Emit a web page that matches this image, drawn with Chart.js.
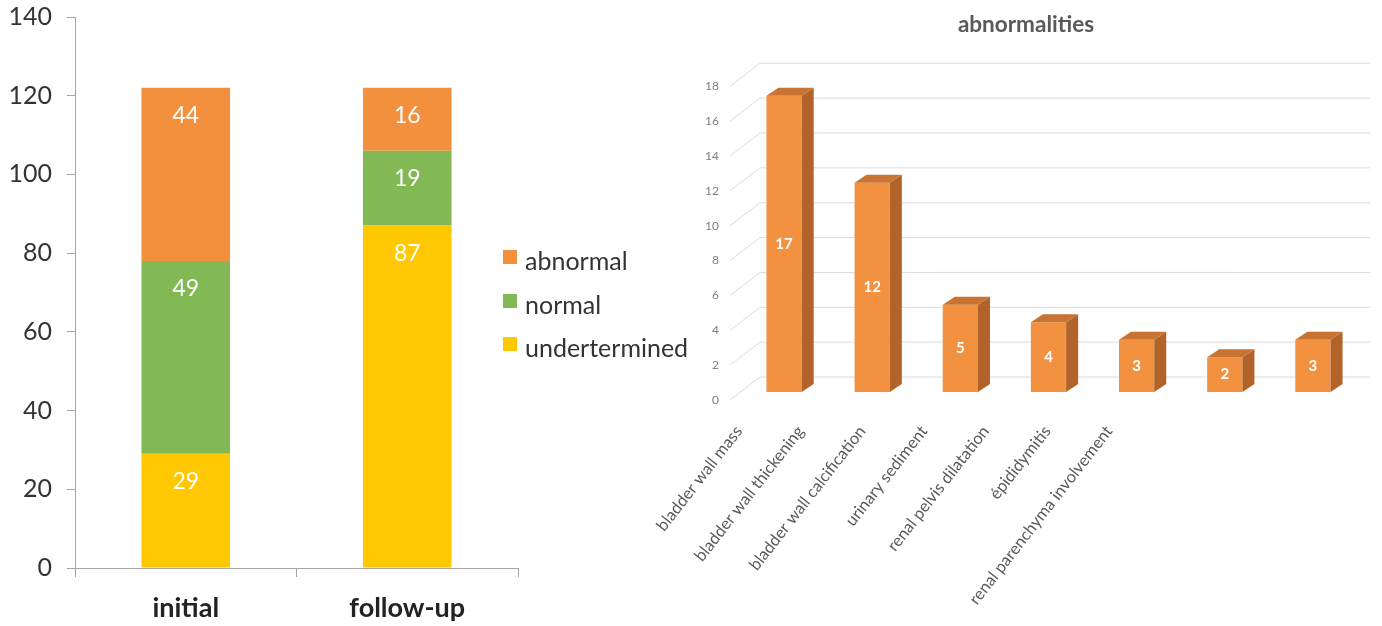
<!DOCTYPE html>
<html><head><meta charset="utf-8">
<script src="https://cdn.jsdelivr.net/npm/chart.js@4.4.1/dist/chart.umd.min.js"></script>
<style>
html,body{margin:0;padding:0;background:#fff;width:1382px;height:626px;overflow:hidden;font-family:Lato,sans-serif}
#c1wrap{position:absolute;left:0;top:0;width:540px;height:626px}
#c2wrap{position:absolute;left:640px;top:0;width:742px;height:626px}
#legend{position:absolute;left:503px;top:0;width:200px;height:626px}
.li{position:absolute;left:0;white-space:nowrap;display:flex;align-items:center;height:30px}
.sw{width:14px;height:14px;margin-right:8px;margin-top:-6px}
.lt{font-size:25px;color:#333;line-height:30px}
</style></head><body>
<div id="c1wrap"><canvas id="c1" width="540" height="626"></canvas></div>
<div id="legend"></div>
<div id="c2wrap"><canvas id="c2" width="742" height="626"></canvas></div>
<script>
// ---- left chart data ----
const stageCategories = ['initial', 'follow-up'];
const undeterminedValues = [29, 87];
const normalValues = [49, 19];
const abnormalValues = [44, 16];
const stageSeriesNames = ['undertermined', 'normal', 'abnormal'];
const stageColors = ['#FFC800', '#82B955', '#F2903E'];
const stageTickMax = 140;
const stageTickStep = 20;

// ---- right chart data ----
const abnormalityCategories = ['bladder wall mass', 'bladder wall thickening', 'bladder wall calcification', 'urinary sediment', 'renal pelvis dilatation', 'épididymitis', 'renal parenchyma involvement'];
const abnormalityCounts = [17, 12, 5, 4, 3, 2, 3];
const countTickMax = 18;
const countTickStep = 2;

const FONT = 'Lato';

// left chart
const stageSeries = [undeterminedValues, normalValues, abnormalValues];
const insideEndLabels = {
  id: 'insideEndLabels',
  afterDatasetsDraw(chart) {
    const ctx = chart.ctx;
    ctx.save();
    ctx.fillStyle = '#ffffff';
    ctx.font = '23px ' + FONT;
    ctx.textAlign = 'center';
    ctx.textBaseline = 'middle';
    chart.data.datasets.forEach((ds, di) => {
      chart.getDatasetMeta(di).data.forEach((el, i) => {
        const p = el.getProps(['x', 'y'], true);
        ctx.fillText(String(ds.data[i]), p.x, p.y + 28);
      });
    });
    ctx.restore();
  }
};
new Chart(document.getElementById('c1'), {
  type: 'bar',
  data: {
    labels: stageCategories,
    datasets: stageSeries.map((vals, i) => ({
      label: stageSeriesNames[i],
      data: vals,
      backgroundColor: stageColors[i],
      barPercentage: 0.4,
      categoryPercentage: 1
    }))
  },
  options: {
    responsive: false,
    animation: false,
    layout: { padding: { top: 17, right: 22, left: 0, bottom: 0 } },
    plugins: { legend: { display: false }, tooltip: { enabled: false } },
    scales: {
      x: {
        stacked: true,
        grid: { drawOnChartArea: false, tickLength: 9, color: '#a6a6a6', offset: true },
        border: { color: '#a6a6a6' },
        ticks: { font: { family: FONT, size: 27, weight: 'bold' }, color: '#222', padding: 15 },
        afterFit: s => { s.height = 58; s.paddingLeft = 0; s.paddingRight = 0; }
      },
      y: {
        stacked: true,
        min: 0, max: stageTickMax,
        ticks: { stepSize: stageTickStep, font: { family: FONT, size: 25 }, color: '#333', padding: 15 },
        grid: { drawOnChartArea: false, tickLength: 8, color: '#a6a6a6' },
        border: { color: '#a6a6a6' },
        afterFit: s => { s.width = 75; s.paddingTop = 0; s.paddingBottom = 0; }
      }
    }
  },
  plugins: [insideEndLabels]
});

// legend (reverse order, as in the reference)
const legendEl = document.getElementById('legend');
[2, 1, 0].forEach((si, row) => {
  const d = document.createElement('div');
  d.className = 'li';
  d.style.top = (245 + row * 43.5) + 'px';
  d.innerHTML = '<span class="sw" style="background:' + stageColors[si] + '"></span><span class="lt">' + stageSeriesNames[si] + '</span>';
  legendEl.appendChild(d);
});

// right chart
const labelSlots = abnormalityCategories.concat(['', '', '']);
const depth = { dx: 12, dy: -8 };
const wallDepth = { fx: -10, fy: 8, bx: 20, by: -15 };
const pseudo3d = {
  id: 'pseudo3d',
  beforeDatasetsDraw(chart) {
    const ctx = chart.ctx, ys = chart.scales.y, ca = chart.chartArea;
    ctx.save();
    ctx.strokeStyle = '#dcdcdc';
    ctx.lineWidth = 1;
    ys.ticks.forEach(t => {
      const p = ys.getPixelForValue(t.value);
      ctx.beginPath();
      ctx.moveTo(ca.left + wallDepth.fx, p + wallDepth.fy);
      ctx.lineTo(ca.left + wallDepth.bx, p + wallDepth.by);
      ctx.lineTo(ca.right + 13, p + wallDepth.by);
      ctx.stroke();
    });
    ctx.restore();
  },
  afterDatasetsDraw(chart) {
    const ctx = chart.ctx;
    ctx.save();
    chart.getDatasetMeta(0).data.forEach((bar, i) => {
      const { x, y, base, width } = bar.getProps(['x', 'y', 'base', 'width'], true);
      const l = x - width / 2, r = x + width / 2;
      ctx.fillStyle = '#B1632A';
      ctx.beginPath();
      ctx.moveTo(r, y); ctx.lineTo(r + depth.dx, y + depth.dy);
      ctx.lineTo(r + depth.dx, base + depth.dy); ctx.lineTo(r, base);
      ctx.closePath(); ctx.fill();
      ctx.fillStyle = '#C87331';
      ctx.beginPath();
      ctx.moveTo(l, y); ctx.lineTo(l + depth.dx, y + depth.dy);
      ctx.lineTo(r + depth.dx, y + depth.dy); ctx.lineTo(r, y);
      ctx.closePath(); ctx.fill();
      ctx.fillStyle = '#ffffff';
      ctx.font = 'bold 15px ' + FONT;
      ctx.textAlign = 'center';
      ctx.textBaseline = 'middle';
      ctx.fillText(String(abnormalityCounts[i]), x, (y + base) / 2);
    });
    ctx.restore();
  }
};
new Chart(document.getElementById('c2'), {
  type: 'bar',
  data: {
    labels: abnormalityCategories,
    datasets: [{
      label: 'abnormalities',
      data: abnormalityCounts,
      backgroundColor: '#F2913F',
      barPercentage: 0.4,
      categoryPercentage: 1,
      xAxisID: 'x',
      yAxisID: 'y'
    }]
  },
  options: {
    responsive: false,
    animation: false,
    layout: { padding: { left: 55, right: 25, top: 0, bottom: 0 } },
    plugins: {
      legend: { display: false },
      tooltip: { enabled: false },
      title: {
        display: true, text: 'abnormalities',
        font: { family: FONT, size: 22.5, weight: 'bold' }, color: '#595959',
        padding: { top: 11, bottom: 40.3 }
      }
    },
    scales: {
      x: { display: false, offset: true },
      xl: {
        type: 'category', position: 'bottom', labels: labelSlots, offset: true,
        min: 0, max: labelSlots.length - 1,
        grid: { display: false, drawTicks: false },
        border: { display: false },
        ticks: { autoSkip: false, minRotation: 52, maxRotation: 52, labelOffset: -32, padding: 30,
                 font: { family: FONT, size: 16.5 }, color: '#595959' },
        afterFit: s => { s.height = 234; }
      },
      y: {
        min: 0, max: countTickMax,
        ticks: { stepSize: countTickStep, font: { family: FONT, size: 12 }, color: '#7f7f7f', padding: 21, labelOffset: 8 },
        grid: { display: false, drawTicks: false },
        border: { display: false },
        afterFit: s => { s.width = 45; }
      }
    }
  },
  plugins: [pseudo3d]
});
</script>
</body></html>
